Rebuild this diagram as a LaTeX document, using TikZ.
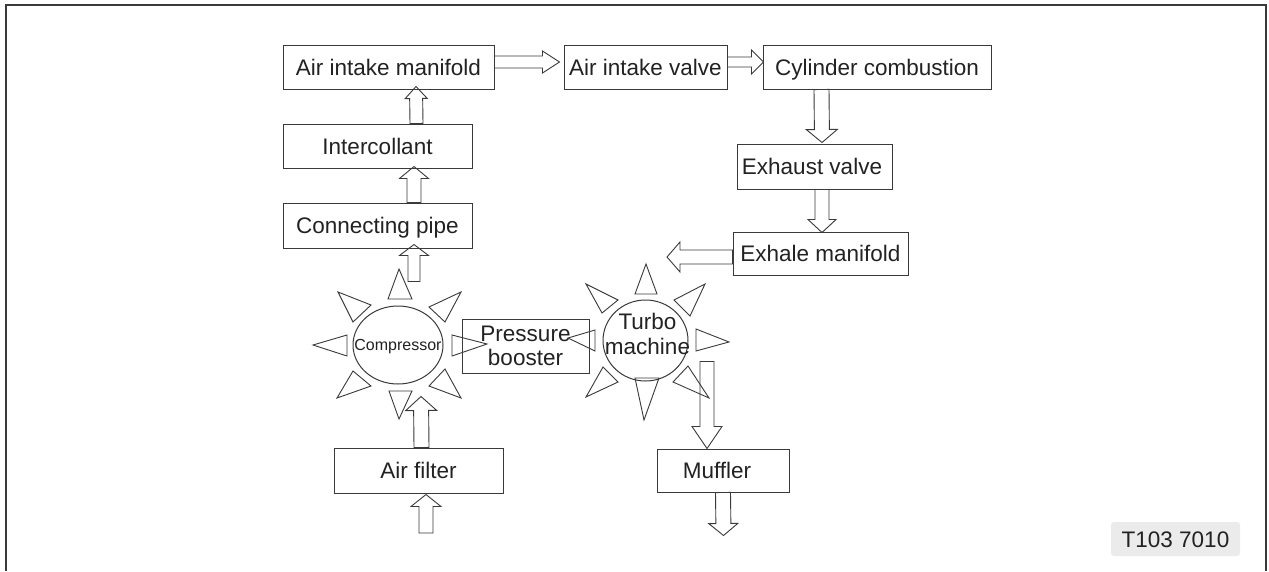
\documentclass[tikz,border=0pt]{standalone}
\usepackage{fontspec}
\setmainfont{Liberation Sans}
\usetikzlibrary{calc,shapes.geometric}
\definecolor{ln}{HTML}{3A3A3A}
\definecolor{tx}{HTML}{222222}
\definecolor{tag}{HTML}{EBEBEB}
\tikzset{
  boxbase/.style={draw=ln,line width=1pt,rectangle,inner sep=0pt,text=tx,font=\fontsize{22.5}{25}\selectfont},
  box/.style={boxbase,text height=16pt,text depth=0pt},
  sun/.style={draw=ln,line width=1pt,ellipse,inner sep=0pt},
  suntext/.style={text=tx,align=center,inner sep=0pt},
  ray/.style={draw=ln,line width=0.9pt,line join=miter},
  blockarrow/.style={draw=ln,line width=0.9pt,line join=miter},
  frame/.style={draw=ln,line width=1.6pt}
}
\newcommand\barr[5]{%
  \path #1 coordinate (bas);
  \path #2 coordinate (bae);
  \path ($(bae)!#5pt!(bas)$) coordinate (bah);
  \draw[blockarrow] ($(bas)!#3pt!90:(bae)$) -- ($(bah)!#3pt!90:(bae)$) -- ($(bah)!#4pt!90:(bae)$) -- (bae)
    -- ($(bah)!#4pt!-90:(bae)$) -- ($(bah)!#3pt!-90:(bae)$) -- ($(bas)!#3pt!-90:(bae)$) -- cycle;
}
\begin{document}
\begin{tikzpicture}[x=1pt,y=-1pt]
\useasboundingbox (0,0) rectangle (1269,571);
\fill[white] (0,0) rectangle (1269,571);
% frame
\draw[frame] (6,571) -- (6,5) -- (1266,5) -- (1266,571);

% boxes
\node[box,minimum width=211pt,minimum height=44pt] (aim) at (388.5,67) {Air intake manifold};
\node[box,minimum width=163pt,minimum height=44pt] (aiv) at (645.5,67) {Air intake valve};
\node[box,minimum width=228pt,minimum height=44pt] (cyl) at (877,67) {Cylinder combustion};
\node[box,minimum width=155pt,minimum height=45pt] (exv) at (814.5,166.5) {\hspace*{-5pt}Exhaust valve};
\node[box,minimum width=175pt,minimum height=43pt] (exm) at (820.5,253.5) {Exhale manifold};
\node[box,minimum width=189pt,minimum height=44pt] (inter) at (377.5,146) {Intercollant};
\node[box,minimum width=189pt,minimum height=45pt] (conn) at (377.5,225.5) {Connecting pipe};
\node[boxbase,minimum width=127pt,minimum height=54pt,align=center] (pb) at (525.5,346) {Pressure\\[-1pt]booster};
\node[box,minimum width=169pt,minimum height=45pt] (filt) at (418.5,470.5) {Air filter};
\node[box,minimum width=132pt,minimum height=43pt] (muf) at (723,470.5) {\hspace*{-12pt}Muffler};
\node[sun,minimum width=90pt,minimum height=78pt] (comp) at (398,345) {};
\node[suntext,font=\fontsize{16}{18}\selectfont] (comptxt) at ($(comp.center)+(0,1.5)$) {Compressor};
\node[sun,minimum width=85pt,minimum height=81pt] (turbo) at (645.5,340.5) {};
\node[suntext,font=\fontsize{22.5}{25}\selectfont] (turbotxt) at ($(turbo.center)+(2,-7)$) {Turbo\\machine};

% label
\node[fill=tag,rounded corners=3pt,minimum width=129pt,minimum height=34pt,inner sep=0pt,text=tx,font=\fontsize{22.5}{25}\selectfont,text height=16pt,text depth=0pt] (tagl) at (1175.5,539) {T103 7010};

% rays around compressor
\draw[ray] (399,269) -- (388,299) -- (412,299) -- cycle;
\draw[ray] (338,292) -- (371,305) -- (353,322) -- cycle;
\draw[ray] (461,292) -- (429,307) -- (445,322) -- cycle;
\draw[ray] (313,345) -- (347,335) -- (347,356) -- cycle;
\draw[ray] (487,344) -- (452,335) -- (452,356) -- cycle;
\draw[ray] (337,398) -- (353,371) -- (371,386) -- cycle;
\draw[ray] (461,398) -- (445,369) -- (429,386) -- cycle;
\draw[ray] (399,419) -- (389,391) -- (412,391) -- cycle;
% rays around turbo machine
\draw[ray] (646,264) -- (635,294) -- (657,294) -- cycle;
\draw[ray] (586,284) -- (618,300) -- (602,313) -- cycle;
\draw[ray] (705,284) -- (674,300) -- (690,316) -- cycle;
\draw[ray] (568,338) -- (595,330) -- (595,351) -- cycle;
\draw[ray] (729,342) -- (696,329) -- (696,351) -- cycle;
\draw[ray] (586,397) -- (603,367) -- (618,382) -- cycle;
\draw[ray] (709,398) -- (688,366) -- (673,382) -- cycle;
\draw[ray] (644,420) -- (635,378) -- (659,378) -- cycle;

% free ends
\coordinate (inlet) at ($(filt.south)+(7.5,39.5)$);
\coordinate (outlet) at ($(muf.south)+(0.5,43)$);

% block arrows
\barr{($(aim.east)+(0,-5)$)}{($(aiv.west)+(-4,-5)$)}{6}{11}{17}
\barr{($(aiv.east)+(0,-5)$)}{($(cyl.west)+(1,-5)$)}{5}{12}{12}
\barr{($(cyl.south west)+(59,0)$)}{($(exv.north)+(7.5,-1)$)}{7.5}{15.5}{13}
\barr{($(exv.south)+(7.5,0)$)}{($(exm.north)+(1.5,1)$)}{7}{14}{13}
\barr{($(exm.west)+(0,3.5)$)}{($(turbo.center)+(21.5,-83.5)$)}{7}{15}{13}
\barr{($(conn.north)+(36.5,0)$)}{($(inter.south)+(36.5,-2)$)}{7}{14.5}{12}
\barr{($(inter.north)+(39,0)$)}{($(aim.south)+(27.5,-3)$)}{6.5}{11}{12}
\barr{($(comp.north)+(16,-24)$)}{($(conn.south)+(36.5,-4)$)}{6}{14.5}{11}
\barr{($(filt.north)+(3,0)$)}{($(comp.south)+(23,12)$)}{7.5}{15.5}{14}
\barr{(inlet)}{($(filt.south)+(7.5,1)$)}{7}{15}{12}
\barr{($(turbo.south)+(61.5,-20)$)}{($(muf.north)+(-16,0)$)}{7}{15}{22}
\barr{(muf.south)}{(outlet)}{7.5}{14.5}{12}
\end{tikzpicture}
\end{document}
